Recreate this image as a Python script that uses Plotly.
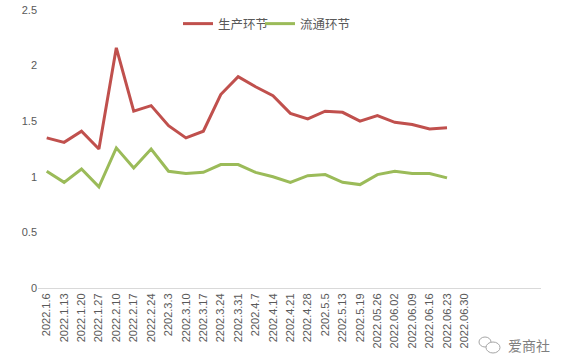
import plotly.graph_objects as go

categories = ["2022.1.6", "2022.1.13", "2022.1.20", "2022.1.27", "2022.2.10", "2022.2.17",
              "2022.2.24", "2202.3.3", "2202.3.10", "2202.3.17", "2202.3.24", "2202.3.31",
              "2202.4.7", "2202.4.14", "2202.4.21", "2202.4.28", "2202.5.5", "2202.5.13",
              "2202.5.19", "2022.05.26", "2022.06.02", "2022.06.09", "2022.06.16",
              "2022.06.23", "2022.06.30"]

production = [1.35, 1.31, 1.41, 1.25, 2.16, 1.59, 1.64, 1.46, 1.35, 1.41, 1.74, 1.90,
              1.81, 1.73, 1.57, 1.52, 1.59, 1.58, 1.50, 1.55, 1.49, 1.47, 1.43, 1.44]
circulation = [1.05, 0.95, 1.07, 0.91, 1.26, 1.08, 1.25, 1.05, 1.03, 1.04, 1.11, 1.11,
               1.04, 1.00, 0.95, 1.01, 1.02, 0.95, 0.93, 1.02, 1.05, 1.03, 1.03, 0.99]

y_ticks = [0, 0.5, 1, 1.5, 2, 2.5]
y_labels = ["0", "0.5", "1", "1.5", "2", "2.5"]

fig = go.Figure()
fig.add_trace(go.Scatter(x=categories[:len(production)], y=production, mode="lines",
                         name="生产环节", line=dict(color="#C0504D", width=3),
                         legend="legend"))
fig.add_trace(go.Scatter(x=categories[:len(circulation)], y=circulation, mode="lines",
                         name="流通环节", line=dict(color="#9BBB59", width=3),
                         legend="legend2"))

W, H = 567, 359
L, R, T, B = 38, 26, 10, 71
pw = W - L - R
ph = H - T - B

def px_x(x):
    return (x - L) / pw

def px_y(y):
    return (H - B - y) / ph

legend_style = dict(orientation="h", xanchor="left", y=px_y(24), yanchor="middle",
                    font=dict(size=12.5, color="#595959"), bgcolor="rgba(0,0,0,0)",
                    itemwidth=30)

fig.update_layout(
    width=W, height=H,
    margin=dict(l=L, r=R, t=T, b=B, autoexpand=False),
    paper_bgcolor="white", plot_bgcolor="white",
    font=dict(family="Noto Sans CJK SC, Liberation Sans, sans-serif", size=11, color="#595959"),
    showlegend=True,
    legend=dict(x=px_x(178), **legend_style),
    legend2=dict(x=px_x(260), **legend_style),
    xaxis=dict(type="category", categoryorder="array", categoryarray=categories,
               tickvals=categories, ticktext=categories, automargin=False,
               range=[-0.5, 28.4], tickangle=-90, showgrid=False,
               showline=True, linecolor="#D9D9D9", linewidth=1, ticks="",
               tickfont=dict(family="Liberation Sans, Arial, sans-serif", size=11, color="#595959"),
               zeroline=False),
    yaxis=dict(range=[0, 2.5], tickvals=y_ticks, ticktext=y_labels, showgrid=False,
               zeroline=False, showline=False, ticks="", automargin=False,
               tickfont=dict(family="Liberation Sans, Arial, sans-serif", size=11, color="#595959")),
    annotations=[dict(text="爱商社", x=px_x(529), y=px_y(345), xref="paper", yref="paper",
                      xanchor="center", yanchor="middle",
                      showarrow=False,
                      font=dict(family="Noto Sans CJK SC", size=14, color="#7F7F7F"))],
    shapes=[
        dict(type="circle", xref="paper", yref="paper",
             x0=px_x(479), x1=px_x(491), y0=px_y(347), y1=px_y(337),
             line=dict(color="#A6A6A6", width=1)),
        dict(type="circle", xref="paper", yref="paper",
             x0=px_x(486), x1=px_x(500), y0=px_y(353), y1=px_y(342),
             line=dict(color="#A6A6A6", width=1), fillcolor="white"),
    ],
)

fig.write_html("out.html", config={"displayModeBar": False},
               post_script="document.body.style.margin='0';")
